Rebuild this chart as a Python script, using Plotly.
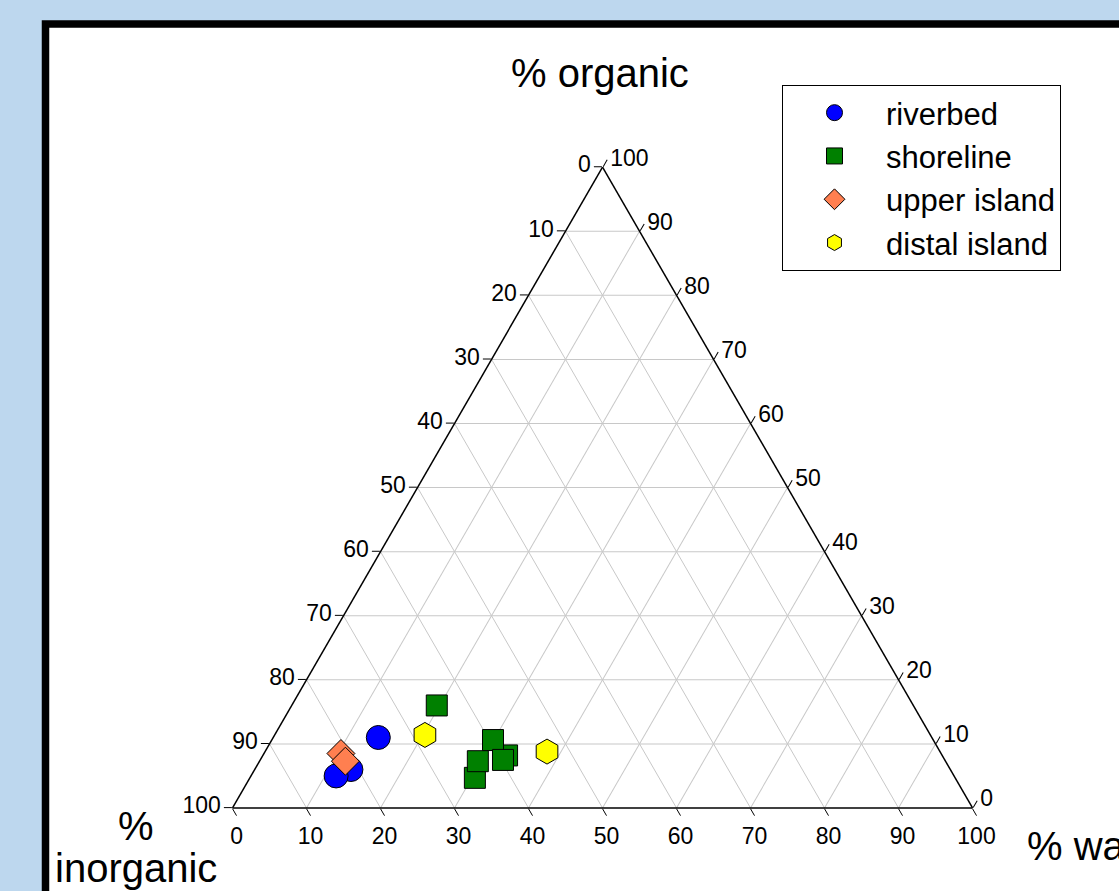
import plotly.graph_objects as go

# Sample compositions: % organic, % water, % inorganic (each row sums to 100)
riverbed_organic = [11.0, 6.0, 5.0]
riverbed_water = [14.2, 13.0, 11.5]
riverbed_inorganic = [74.8, 81.0, 83.5]

shoreline_organic = [16.0, 4.7, 8.2, 10.6, 7.3, 7.5]
shoreline_water = [19.6, 30.4, 33.0, 29.9, 29.5, 32.8]
shoreline_inorganic = [64.4, 64.9, 58.8, 59.5, 63.2, 59.7]

upper_island_organic = [8.5, 7.3]
upper_island_water = [10.4, 11.6]
upper_island_inorganic = [81.1, 81.1]

distal_island_organic = [11.4, 8.8]
distal_island_water = [20.3, 38.1]
distal_island_inorganic = [68.3, 53.1]

# Each edge is labelled with the component that grows clockwise along it
tick_values = [0, 10, 20, 30, 40, 50, 60, 70, 80, 90, 100]
tick_labels = ["100", "90", "80", "70", "60", "50", "40", "30", "20", "10", "0"]

W, H = 1119, 891
FONT = "Liberation Sans, Arial, sans-serif"


def px_x(x):
    return x / W


def px_y(y):
    return 1 - y / H


series = [
    ("riverbed", riverbed_organic, riverbed_inorganic, riverbed_water,
     dict(symbol="circle", size=24, color="#0000FF")),
    ("shoreline", shoreline_organic, shoreline_inorganic, shoreline_water,
     dict(symbol="square", size=21, color="#008000")),
    ("upper island", upper_island_organic, upper_island_inorganic, upper_island_water,
     dict(symbol="diamond", size=21.5, color="#FF7F50")),
    ("distal island", distal_island_organic, distal_island_inorganic, distal_island_water,
     dict(symbol="hexagon", size=25, color="#FFFF00")),
]

fig = go.Figure()
for name, organic, inorganic, water, mk in series:
    fig.add_trace(go.Scatterternary(
        a=organic, b=inorganic, c=water,
        mode="markers", name=name,
        marker=dict(symbol=mk["symbol"], size=mk["size"], color=mk["color"],
                    line=dict(color="black", width=1)),
    ))

axis_style = dict(
    min=0,
    tickmode="array", tickvals=tick_values, ticktext=tick_labels,
    ticks="outside", ticklen=8, tickwidth=1.2, tickcolor="black",
    tickfont=dict(family=FONT, size=23, color="black"),
    showline=True, linecolor="black", linewidth=1.5,
    showgrid=True, gridcolor="#C8C8C8", gridwidth=1,
    title=dict(text=""),
)

fig.update_layout(
    width=W, height=H, autosize=False,
    margin=dict(l=0, r=0, t=0, b=0),
    paper_bgcolor="#BDD7EE",
    font=dict(family=FONT, color="black"),
    ternary=dict(
        sum=100,
        domain=dict(x=[0.2078, 0.8691], y=[0.0528, 0.8528]),
        bgcolor="white",
        aaxis=axis_style,
        baxis=axis_style,
        caxis=axis_style,
    ),
    legend=dict(
        x=px_x(782), y=px_y(85), xanchor="left", yanchor="top",
        bgcolor="white", bordercolor="black", borderwidth=1,
        itemwidth=93, entrywidth=185, entrywidthmode="pixels",
        font=dict(family=FONT, size=31, color="black"),
    ),
    shapes=[dict(
        type="rect", xref="paper", yref="paper", layer="below",
        x0=px_x(45.5), y0=px_y(24), x1=1.1, y1=-0.1,
        line=dict(color="black", width=7.5), fillcolor="white",
    )],
    annotations=[
        dict(text="% organic", x=px_x(600), y=px_y(73), xref="paper", yref="paper",
             xanchor="center", yanchor="middle", showarrow=False,
             font=dict(family=FONT, size=40, color="black")),
        dict(text="%", x=px_x(136), y=px_y(826), xref="paper", yref="paper",
             xanchor="center", yanchor="middle", showarrow=False,
             font=dict(family=FONT, size=40, color="black")),
        dict(text="inorganic", x=px_x(136), y=px_y(868), xref="paper", yref="paper",
             xanchor="center", yanchor="middle", showarrow=False,
             font=dict(family=FONT, size=40, color="black")),
        dict(text="% water", x=px_x(1025), y=px_y(846), xref="paper", yref="paper",
             xanchor="left", yanchor="middle", showarrow=False,
             font=dict(family=FONT, size=40, color="black")),
    ],
)

fig.write_html("out.html")
